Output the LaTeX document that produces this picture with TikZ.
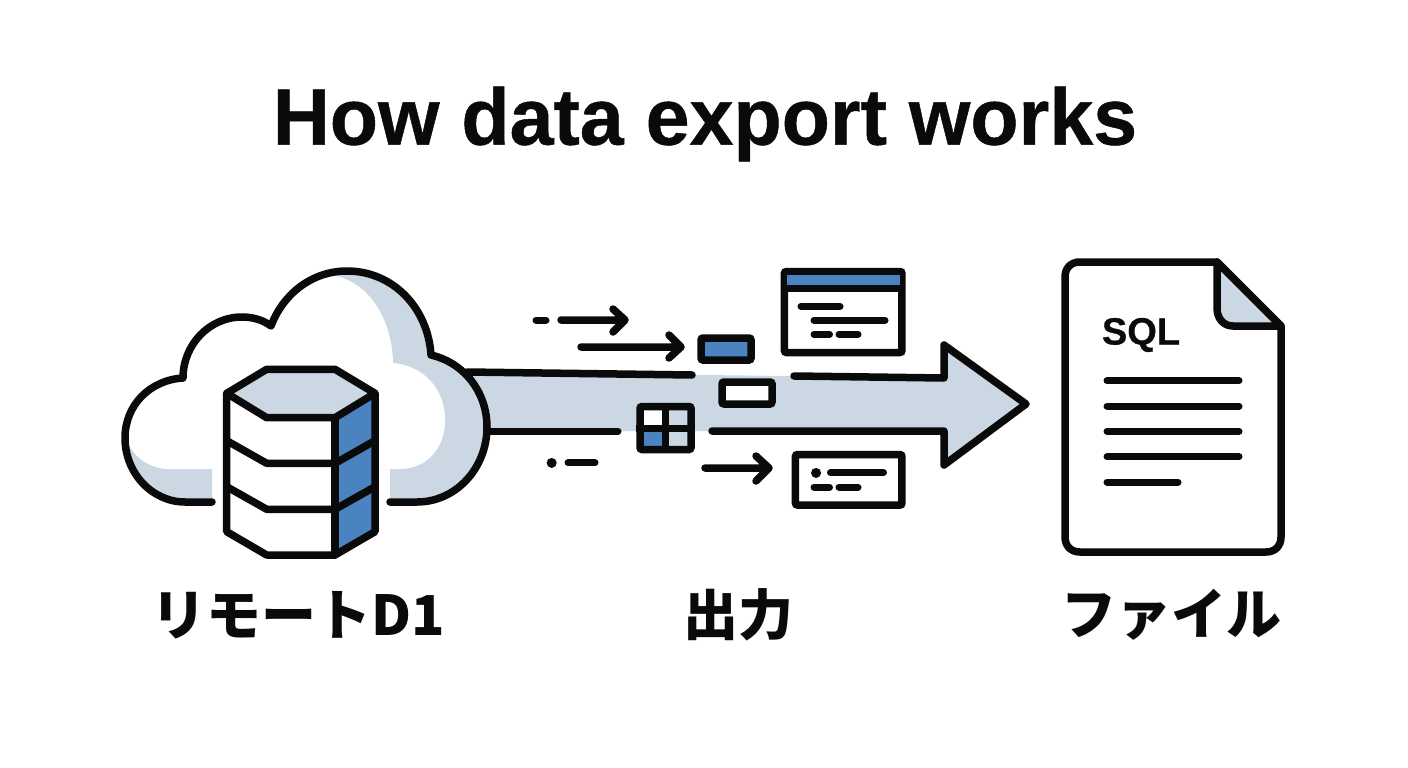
\documentclass[tikz,border=0pt]{standalone}
\usepackage{fontspec}
\setmainfont{Liberation Sans}
\newfontfamily\cjk{Noto Sans CJK JP}
\newfontfamily\headfont[FakeBold=0.6]{Liberation Sans Bold}
\definecolor{ink}{HTML}{0A0A0A}
\definecolor{pale}{HTML}{CBD7E2}
\definecolor{steel}{HTML}{4A83C0}
\begin{document}
\begin{tikzpicture}[
x=1pt,y=-1pt,
outline/.style={draw=ink,line width=7.5pt,line join=round,line cap=round},
stroke/.style={draw=ink,line width=7pt,line cap=round},
dotmark/.style={draw=ink,line width=10pt,line cap=round},
card/.style={draw=ink,line width=7.5pt,rounded corners=2pt,inner sep=0pt,fill=white},
title node/.style={font=\headfont\fontsize{80}{80}\selectfont,text=ink,inner sep=0pt},
caption node/.style={font=\cjk\bfseries\fontsize{55}{55}\selectfont,text=ink,inner sep=0pt}]
\useasboundingbox (0,0) rectangle (1408,768);
%title
  \node[title node] (title) at (705,124) {\scalebox{0.987}[1]{How data export works}};
%band
  \fill[pale] (467,372) -- (944,378) -- (944,345) -- (1026,404) -- (944,465) -- (944,431) -- (480,431) -- cycle;
  \draw[outline] (467,372) -- (692,375);
  \draw[outline] (794,376) -- (944,378) -- (944,345) -- (1026,404) -- (944,465) -- (944,431) -- (712,431);
  \draw[stroke] (490,431) -- (618,431);
%cloud
  \fill[pale] (212,502) -- (185,502) .. controls (152,502) and (125,473) .. (125,438)
    .. controls (125,405) and (150,380) .. (183,378)
    .. controls (183,345) and (209,317) .. (242,317)
    .. controls (253,317) and (263,320) .. (271,326)
    .. controls (283,294) and (312,271) .. (347,271)
    .. controls (393,271) and (428,308) .. (431,355)
    .. controls (465,363) and (487,393) .. (487,427)
    .. controls (487,468) and (456,502) .. (417,502)
    -- (390,502) -- (390,469) -- (212,469) -- cycle;
  \fill[white] (212,469) -- (170,469) .. controls (150,469) and (135,458) .. (128,443)
    -- (125,438)
    .. controls (125,405) and (150,380) .. (183,378)
    .. controls (183,345) and (209,317) .. (242,317)
    .. controls (253,317) and (263,320) .. (271,326)
    .. controls (283,298) and (305,277) .. (330,275)
    .. controls (368,280) and (392,318) .. (393,363)
    .. controls (425,366) and (445,390) .. (445,420)
    .. controls (445,450) and (425,469) .. (400,469)
    -- (388,469) -- cycle;
  \draw[outline] (212,502) -- (185,502) .. controls (152,502) and (125,473) .. (125,438)
    .. controls (125,405) and (150,380) .. (183,378)
    .. controls (183,345) and (209,317) .. (242,317)
    .. controls (253,317) and (263,320) .. (271,326)
    .. controls (283,294) and (312,271) .. (347,271)
    .. controls (393,271) and (428,308) .. (431,355)
    .. controls (465,363) and (487,393) .. (487,427)
    .. controls (487,468) and (456,502) .. (417,502)
    -- (390,502);
%database
  \fill[white] (226.7,393.3) -- (226.7,531.7) -- (266.7,555) -- (335,555) -- (335,417.7) -- (266.7,417.7) -- cycle;
  \fill[steel] (335,417.7) -- (375,393.3) -- (375,531.7) -- (335,555) -- cycle;
  \draw[outline,fill=pale] (226.7,393.3) -- (266.7,369.3) -- (335,369.3) -- (375,393.3) -- (335,417.7) -- (266.7,417.7) -- cycle;
  \draw[outline] (226.7,393.3) -- (226.7,531.7) -- (266.7,555) -- (335,555) -- (375,531.7) -- (375,393.3);
  \draw[outline] (335,417.7) -- (335,555);
  \foreach \laney/\lanedip in {440.7/463.3,486.7/509.3}
    \draw[outline] (226.7,\laney) -- (266.7,\lanedip) -- (335,\lanedip) -- (375,\laney);
%small arrows
  \draw[stroke] (536,320) -- (546,320);
  \draw[outline] (561,320) -- (625,320) (613,309) -- (625,320) -- (613,332);
  \draw[outline] (581,347) -- (681,347) (669,335) -- (681,347) -- (669,358);
  \draw[outline] (705,468) -- (769,468) (756,456) -- (769,468) -- (756,481);
  \draw[dotmark] (551.6,462.7) -- (551.7,462.7);
  \draw[stroke] (568,462.7) -- (595,462.7);
%chips
  \node[card,fill=steel,minimum width=50pt,minimum height=22pt] (chip) at (726,349) {};
  \node[card,minimum width=50pt,minimum height=22pt] (slot) at (747,393) {};
%grid
  \fill[white] (640,407) rectangle (665.5,428);
  \fill[pale] (665.5,407) rectangle (691,428);
  \fill[steel] (640,428) rectangle (665.5,449);
  \fill[pale] (665.5,428) rectangle (691,449);
  \node[card,fill=none,minimum width=51pt,minimum height=43pt] (grid) at (665.5,428) {};
  \draw[ink,line width=7pt] (grid.north) -- (grid.south) (grid.west) -- (grid.east);
%window
  \node[card,minimum width=117.5pt,minimum height=81pt] (window) at (843.2,312) {};
  \fill[steel] (787,275) rectangle (899.5,286);
  \draw[ink,line width=7pt] (785,288.3) -- (902,288.3);
  \draw[stroke] (801,306.3) -- (840,306.3);
  \draw[stroke] (814,320.3) -- (885,320.3);
  \draw[stroke] (814,334.3) -- (829.5,334.3);
  \draw[stroke] (839,334.3) -- (858,334.3);
%list
  \node[card,minimum width=106.5pt,minimum height=50.5pt] (list) at (848.7,479.8) {};
  \draw[dotmark] (816,472.7) -- (816.1,472.7);
  \draw[stroke] (830.5,472.7) -- (883.5,472.7);
  \draw[stroke] (814,487) -- (829.5,487);
  \draw[stroke] (839,487) -- (858,487);
%file
  \draw[outline,fill=white] (1077,262) -- (1217,262) -- (1281,326) -- (1281,537) .. controls (1281,546) and (1275,552) .. (1266,552)
    -- (1080,552) .. controls (1071,552) and (1065,546) .. (1065,537) -- (1065,277) .. controls (1065,268) and (1071,262) .. (1080,262) -- cycle;
  \draw[outline,fill=pale] (1217,262) -- (1217,308) .. controls (1217,318) and (1223,326) .. (1233,326) -- (1281,326) -- cycle;
  \node[font=\headfont\fontsize{38}{38}\selectfont,text=ink,inner sep=0pt] (sql) at (1141,335) {SQL};
  \foreach \ruley in {380.7,406,431.3,456.7}
    \draw[stroke] (1107,\ruley) -- (1239,\ruley);
  \draw[stroke] (1107,482) -- (1178,482);
%captions
  \node[caption node] (remote) at (298,615) {リモートD1};
  \node[caption node] (output) at (738,615) {出力};
  \node[caption node] (target) at (1171,615) {ファイル};
\end{tikzpicture}
\end{document}
